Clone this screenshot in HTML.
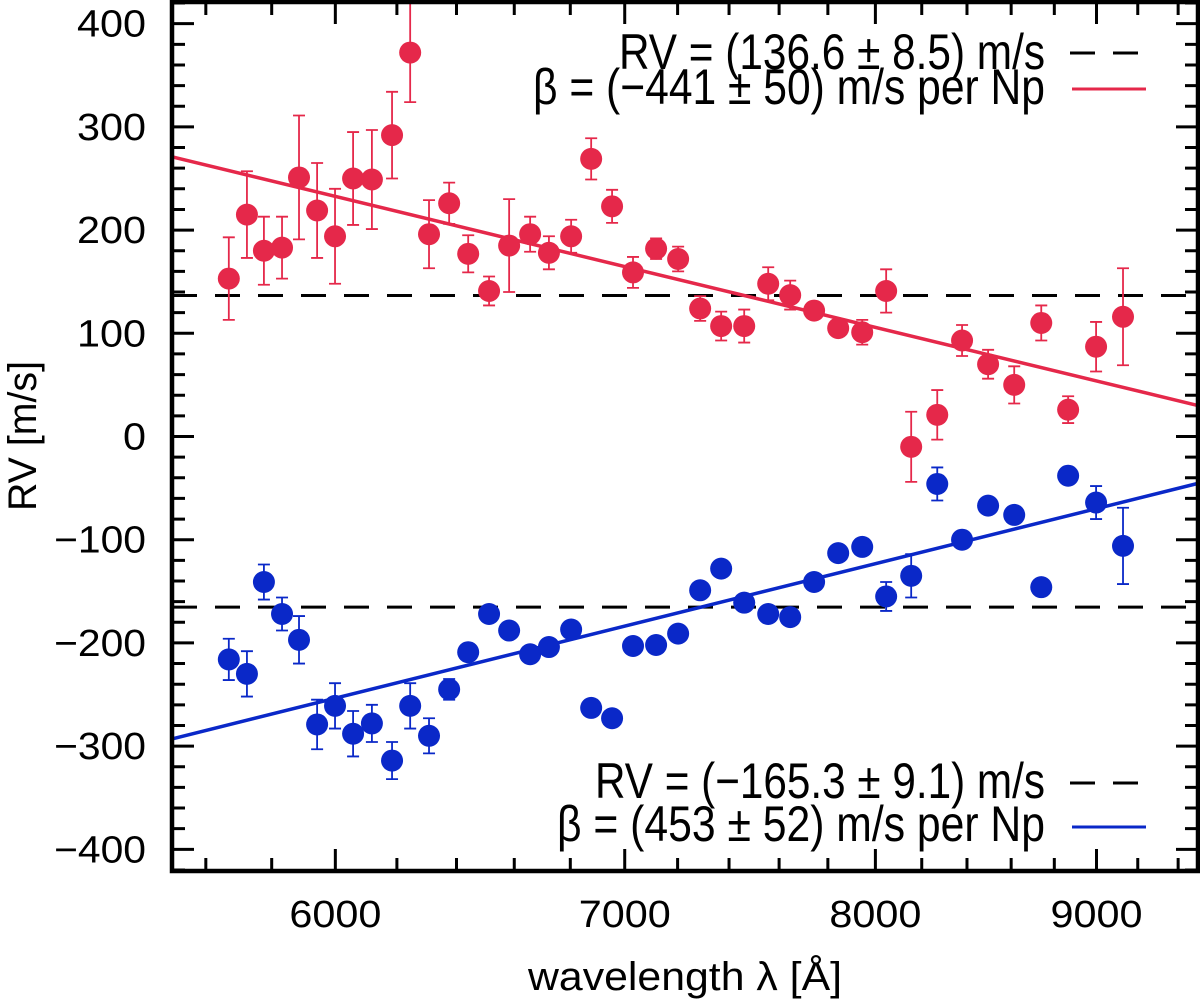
<!DOCTYPE html>
<html><head><meta charset="utf-8"><style>
html,body{margin:0;padding:0;background:#fff;}
svg{display:block;font-family:"Liberation Sans",sans-serif;}
</style></head><body>
<svg id="chart" width="1200" height="1001" viewBox="0 0 1200 1001" xmlns="http://www.w3.org/2000/svg">
<g id="marks"></g>
<g id="axes"></g>
<g>
<text x="1045" y="69" text-anchor="end" font-size="50" textLength="426" lengthAdjust="spacingAndGlyphs">RV = (136.6 ± 8.5) m/s</text>
<line x1="1070" y1="53" x2="1146" y2="53" stroke="#000" stroke-width="3" stroke-dasharray="25,18"/>
<text x="1045" y="104" text-anchor="end" font-size="50" textLength="512" lengthAdjust="spacingAndGlyphs">β = (−441 ± 50) m/s per Np</text>
<line x1="1072" y1="89" x2="1146" y2="89" stroke="#e5284a" stroke-width="3"/>
</g>
<g>
<text x="1045" y="798" text-anchor="end" font-size="50" textLength="450" lengthAdjust="spacingAndGlyphs">RV = (−165.3 ± 9.1) m/s</text>
<line x1="1070" y1="783" x2="1146" y2="783" stroke="#000" stroke-width="3" stroke-dasharray="25,18"/>
<text x="1045" y="841" text-anchor="end" font-size="50" textLength="488" lengthAdjust="spacingAndGlyphs">β = (453 ± 52) m/s per Np</text>
<line x1="1072" y1="827" x2="1146" y2="827" stroke="#0a28c8" stroke-width="3"/>
</g>
<text x="685" y="990" text-anchor="middle" font-size="40" textLength="314" lengthAdjust="spacingAndGlyphs">wavelength λ [Å]</text>
<text transform="translate(36,436) rotate(-90)" text-anchor="middle" font-size="40" textLength="150" lengthAdjust="spacingAndGlyphs">RV [m/s]</text>
</svg>
<script>
const lambdas=[5669,5724,5776,5832,5885,5942,5999,6057,6118,6184,6244,6307,6375,6440,6512,6582,6656,6723,6803,6876,6953,7031,7118,7202,7287,7369,7460,7556,7645,7743,7843,7944,8046,8154,8268,8378,8495,8614,8739,8865,8998,9128];
const redRV=[153,215,180,183,251,219,194,250,249,292,372,196,226,177,141,185,196,178,194,269,223,159,182,172,124,107,107,148,137,122,105,101,141,-10,21,93,70,50,110,26,87,116];
const redErr=[40,42,33,30,60,46,46,45,48,42,48,33,20,18,14,45,17,16,16,20,16,15,10,12,12,14,16,16,14,8,8,12,21,34,24,15,14,18,17,13,24,47];
const blueRV=[-216,-230,-141,-172,-197,-279,-261,-288,-278,-314,-261,-290,-245,-209,-172,-188,-211,-204,-187,-263,-273,-203,-202,-191,-149,-128,-161,-172,-175,-141,-113,-107,-155,-135,-46,-100,-67,-76,-146,-38,-64,-106];
const blueErr=[20,22,17,16,23,24,22,22,18,18,22,17,10,6,6,6,6,6,6,8,6,6,6,6,6,6,6,6,6,6,6,6,14,21,16,6,6,8,8,6,16,37];
const redRVconst=[136.6];
const blueRVconst=[-165.3];
const redFit=[271,-441];   // value at 5500 Å, slope per Np
const blueFit=[-293,453];
const xMajorTicks=[6000,7000,8000,9000];
const yMajorTicks=[-400,-300,-200,-100,0,100,200,300,400];

const L=172,R=1198,T=2,B=871,XMIN=5500,XMAX=9500,YMIN=-421,YMAX=421;
function xs(l){return L+(R-L)*Math.log(l/XMIN)/Math.log(XMAX/XMIN);}
function ys(v){return B-(B-T)*(v-YMIN)/(YMAX-YMIN);}
const NS="http://www.w3.org/2000/svg";
function mk(tag,attrs,parent){const e=document.createElementNS(NS,tag);for(const k in attrs)e.setAttribute(k,attrs[k]);parent.appendChild(e);return e;}
const marks=document.getElementById('marks'),axes=document.getElementById('axes');

[[redRVconst[0],'red-mean-line'],[blueRVconst[0],'blue-mean-line']].forEach(([v,n])=>{
  const e=mk('line',{x1:L,x2:R,y1:ys(v),y2:ys(v),stroke:'#000','stroke-width':3,'stroke-dasharray':'25,18'},marks);
  
  
});
[[redFit,'#e5284a','red-fit-line'],[blueFit,'#0a28c8','blue-fit-line']].forEach(([f,c,n])=>{
  const v1=f[0],v2=f[0]+f[1]*Math.log(XMAX/XMIN);
  const e=mk('line',{x1:L,x2:R,y1:ys(v1),y2:ys(v2),stroke:c,'stroke-width':3.5},marks);
  
  
});
function series(vals,errs,color,prefix){
  const g=mk('g',{},marks);
  
  
  vals.forEach((v,i)=>{
    const x=xs(lambdas[i]),y=ys(v),y1=ys(v+errs[i]),y2=ys(v-errs[i]);
    const yt=Math.max(y1,T);
    const eb=mk('path',{d:`M${x},${yt}V${y2}`+(y1>=T?`M${x-6},${y1}H${x+6}`:'')+`M${x-6},${y2}H${x+6}`,stroke:color,'stroke-width':1.8,fill:'none'},g);
    
    
    const c=mk('circle',{cx:x,cy:y,r:11,fill:color},g);
    
    
  });
}
series(redRV,redErr,'#e5284a','red');
series(blueRV,blueErr,'#0a28c8','blue');

const fr=mk('rect',{x:L,y:T,width:R-L,height:B-T,fill:'none',stroke:'#000','stroke-width':4.5},axes);


for(let l=5600;l<=9400;l+=200){
  const x=xs(l),maj=xMajorTicks.includes(l),len=maj?22:13;
  const t=mk('path',{d:`M${x},${B}V${B-len}M${x},${T}V${T+len}`,stroke:'#000','stroke-width':3},axes);
  
  
}
xMajorTicks.forEach(l=>{
  const t=mk('text',{x:xs(l),y:927,'text-anchor':'middle','font-size':38,textLength:92,lengthAdjust:'spacingAndGlyphs'},axes);
  t.textContent=l;
  
  
});
for(let v=-420;v<=420;v+=20){
  const y=ys(v),maj=yMajorTicks.includes(v),len=maj?22:13;
  const t=mk('path',{d:`M${L},${y}H${L+len}M${R},${y}H${R-len}`,stroke:'#000','stroke-width':3},axes);
  
  
}
yMajorTicks.forEach(v=>{
  const s=v<0?'\u2212'+(-v):''+v;
  const t=mk('text',{x:146,y:ys(v)+13,'text-anchor':'end','font-size':38,textLength:(s.length*23),lengthAdjust:'spacingAndGlyphs'},axes);
  t.textContent=s;
  
  
});
</script>
</body></html>
